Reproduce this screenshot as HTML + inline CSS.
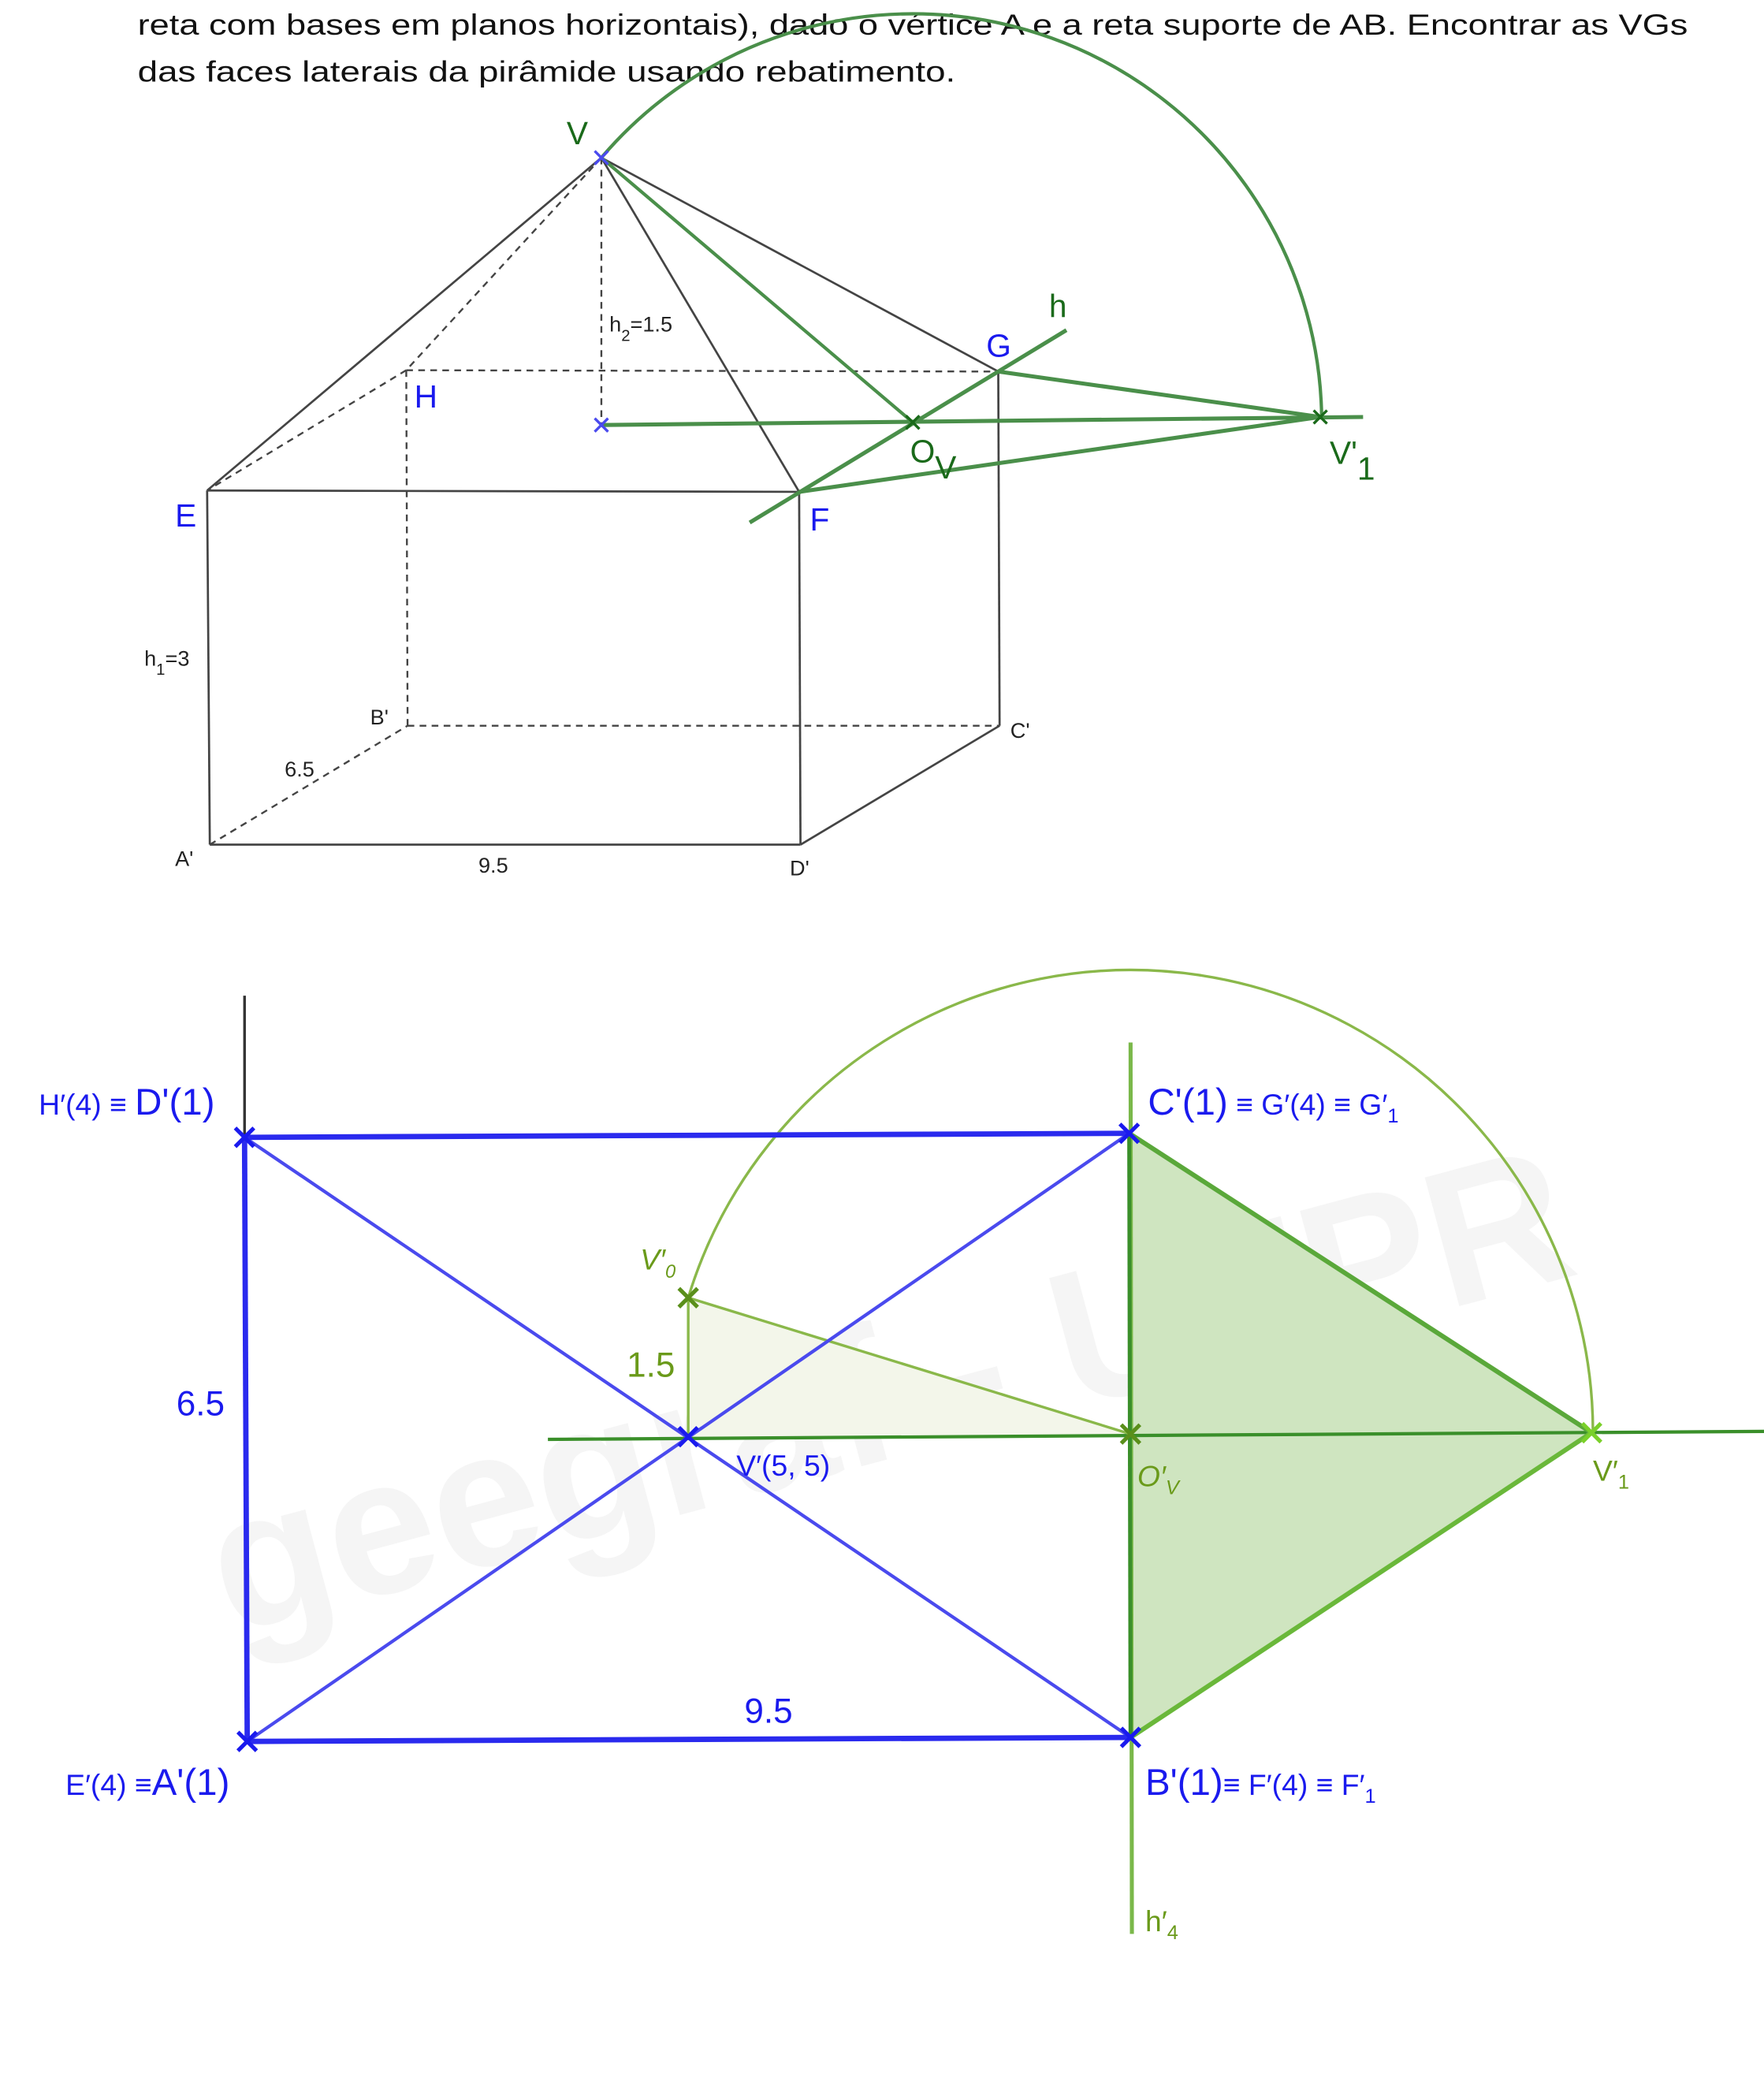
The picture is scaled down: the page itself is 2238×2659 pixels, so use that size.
<!DOCTYPE html>
<html><head><meta charset="utf-8"><style>
html,body{margin:0;padding:0;background:#fff;}
svg{display:block;}
text{font-family:"Liberation Sans",sans-serif;}
</style></head><body>
<svg width="2238" height="2659" viewBox="0 0 1320 1568.3" xmlns="http://www.w3.org/2000/svg">
<text x="103" y="26" font-size="22" fill="#111" textLength="1160" lengthAdjust="spacingAndGlyphs">reta com bases em planos horizontais), dado o vértice A e a reta suporte de AB. Encontrar as VGs</text>
<text x="103" y="61" font-size="22" fill="#111" textLength="612" lengthAdjust="spacingAndGlyphs">das faces laterais da pirâmide usando rebatimento.</text>

<g stroke="#444" stroke-width="1.6" fill="none">
<line x1="450" y1="118" x2="155" y2="367"/>
<line x1="450" y1="118" x2="598" y2="368"/>
<line x1="450" y1="118" x2="747" y2="278"/>
<line x1="155" y1="367" x2="598" y2="368"/>
<line x1="155" y1="367" x2="157" y2="632"/>
<line x1="598" y1="368" x2="599" y2="632"/>
<line x1="157" y1="632" x2="599" y2="632"/>
<line x1="599" y1="632" x2="748" y2="543"/>
<line x1="747" y1="278" x2="748" y2="543"/>
</g>
<g stroke="#444" stroke-width="1.4" fill="none" stroke-dasharray="5,4">
<line x1="450" y1="118" x2="304" y2="277"/>
<line x1="304" y1="277" x2="155" y2="367"/>
<line x1="304" y1="277" x2="747" y2="278"/>
<line x1="304" y1="277" x2="305" y2="543"/>
<line x1="305" y1="543" x2="748" y2="543"/>
<line x1="157" y1="632" x2="305" y2="543"/>
<line x1="450" y1="118" x2="450" y2="318"/>
</g>
<g stroke="#4a8f4a" fill="none">
<path d="M450,118 A306,306 0 0 1 989,312" stroke-width="2.5"/>
<line x1="450" y1="118" x2="683" y2="316" stroke-width="2.5"/>
<line x1="450" y1="318" x2="1020" y2="312" stroke-width="3"/>
<line x1="561" y1="391" x2="798" y2="247" stroke-width="3"/>
<line x1="747" y1="278" x2="988" y2="312" stroke-width="3"/>
<line x1="598" y1="368" x2="988" y2="312" stroke-width="3"/>
</g>
<g stroke="#4a4aee" stroke-width="2"><line x1="445" y1="113" x2="455" y2="123"/><line x1="455" y1="113" x2="445" y2="123"/>
<line x1="445" y1="313" x2="455" y2="323"/><line x1="455" y1="313" x2="445" y2="323"/></g>
<g stroke="#1a6a1a" stroke-width="2"><line x1="678" y1="311" x2="688" y2="321"/><line x1="688" y1="311" x2="678" y2="321"/>
<line x1="983" y1="307" x2="993" y2="317"/><line x1="993" y1="307" x2="983" y2="317"/></g>
<g font-size="24">
<text x="424" y="108" fill="#1a6a1a">V</text>
<text x="785" y="237" fill="#1a6a1a">h</text>
<text x="738" y="267" fill="#1a1aee">G</text>
<text x="310" y="305" fill="#1a1aee">H</text>
<text x="131" y="394" fill="#1a1aee">E</text>
<text x="606" y="397" fill="#1a1aee">F</text>
<text x="681" y="346" fill="#1a6a1a">O<tspan dy="12">V</tspan></text>
<text x="995" y="347" fill="#1a6a1a">V'<tspan dy="12">1</tspan></text>
</g>
<g font-size="16" fill="#222">
<text x="456" y="248">h<tspan font-size="12" dy="7">2</tspan><tspan dy="-7">=1.5</tspan></text>
<text x="108" y="498">h<tspan font-size="12" dy="7">1</tspan><tspan dy="-7">=3</tspan></text>
<text x="277" y="542">B'</text>
<text x="756" y="552">C'</text>
<text x="213" y="581">6.5</text>
<text x="131" y="648">A'</text>
<text x="358" y="653">9.5</text>
<text x="591" y="655">D'</text>
</g>

<text x="665" y="1090" text-anchor="middle" font-size="145" font-weight="bold" fill="#000" opacity="0.035" transform="rotate(-15 665 1040)">geegraf - UFPR</text>
<polygon points="845,848 1191,1072 846,1300" fill="#cfe5c0"/>
<polygon points="515,971 515,1075 846,1073" fill="#f3f6ea"/>
<line x1="183" y1="745" x2="183" y2="851" stroke="#333" stroke-width="2"/>
<path d="M515,971 A346,346 0 0 1 1192,1072" fill="none" stroke="#8ab84a" stroke-width="2"/>
<line x1="846" y1="780" x2="847" y2="1447" stroke="#7ab84a" stroke-width="3"/>
<line x1="845" y1="848" x2="846" y2="1300" stroke="#3a8f2a" stroke-width="3"/>
<line x1="410" y1="1077" x2="1320" y2="1071" stroke="#3a8f2a" stroke-width="2.5"/>
<line x1="515" y1="971" x2="515" y2="1075" stroke="#8ab84a" stroke-width="2"/>
<line x1="515" y1="971" x2="846" y2="1073" stroke="#8ab84a" stroke-width="2"/>
<line x1="845" y1="848" x2="1191" y2="1072" stroke="#5aa83a" stroke-width="3.5"/>
<line x1="846" y1="1300" x2="1191" y2="1072" stroke="#6ab83a" stroke-width="3.5"/>
<g stroke="#4a4aee" stroke-width="2.5" fill="none">
<line x1="183" y1="851" x2="846" y2="1300"/>
<line x1="185" y1="1303" x2="845" y2="848"/>
</g>
<g stroke="#2a2aee" stroke-width="4" fill="none">
<line x1="183" y1="851" x2="845" y2="848"/>
<line x1="185" y1="1303" x2="846" y2="1300"/>
<line x1="183" y1="851" x2="185" y2="1303"/>
</g>
<g stroke="#1a1aee" stroke-width="3">
<path d="M176,844l14,14M190,844l-14,14"/>
<path d="M838,841l14,14M852,841l-14,14"/>
<path d="M178,1296l14,14M192,1296l-14,14"/>
<path d="M839,1293l14,14M853,1293l-14,14"/>
<path d="M508,1068l14,14M522,1068l-14,14"/>
</g>
<g stroke="#5a8f1a" stroke-width="3">
<path d="M508,964l14,14M522,964l-14,14"/>
<path d="M839,1066l14,14M853,1066l-14,14"/>
</g>
<g stroke="#7ad02a" stroke-width="3"><path d="M1184,1065l14,14M1198,1065l-14,14"/></g>
<g fill="#1a1aee">
<text x="29" y="834" font-size="22">H′(4) ≡ <tspan font-size="28">D'(1)</tspan></text>
<text x="859" y="834" font-size="28">C'(1)<tspan font-size="22"> ≡ G′(4) ≡ G′</tspan><tspan font-size="15" dy="6">1</tspan></text>
<text x="49" y="1343" font-size="22">E′(4) ≡<tspan font-size="28">A'(1)</tspan></text>
<text x="857" y="1343" font-size="28">B'(1)<tspan font-size="22">≡ F′(4) ≡ F′</tspan><tspan font-size="15" dy="6">1</tspan></text>
<text x="132" y="1059" font-size="26">6.5</text>
<text x="557" y="1289" font-size="26">9.5</text>
<text x="551" y="1104" font-size="22">V′(5, 5)</text>
</g>
<g fill="#6a9a1a">
<text x="469" y="1030" font-size="26">1.5</text>
<text x="479" y="950" font-size="22" font-family="Liberation Serif" font-style="italic">V′<tspan font-size="14" dy="6">0</tspan></text>
<text x="851" y="1112" font-size="22" font-family="Liberation Serif" font-style="italic">O′<tspan font-size="15" dy="6">V</tspan></text>
<text x="1192" y="1108" font-size="22">V′<tspan font-size="15" dy="6">1</tspan></text>
<text x="857" y="1445" font-size="22">h′<tspan font-size="15" dy="6">4</tspan></text>
</g>
</svg>
</body></html>
